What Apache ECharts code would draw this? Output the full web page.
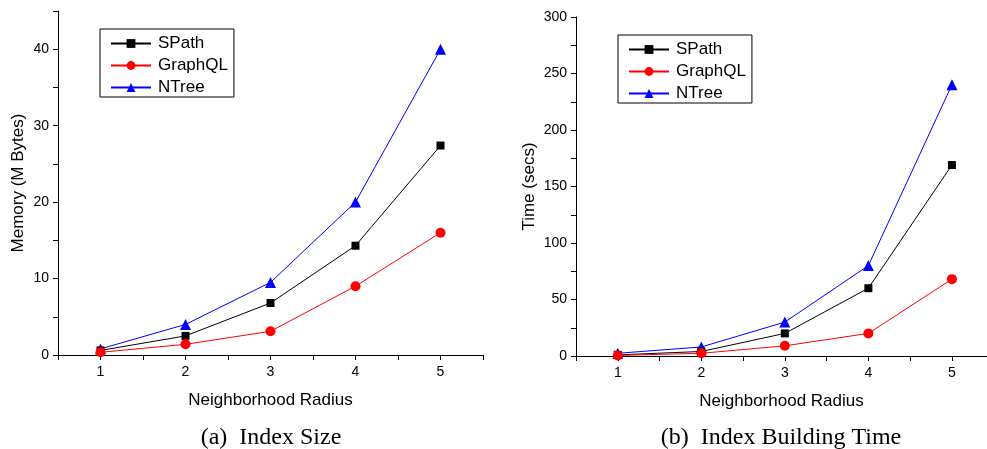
<!DOCTYPE html>
<html>
<head>
<meta charset="utf-8">
<script src="https://cdn.jsdelivr.net/npm/echarts@6/dist/echarts.min.js"></script>
<style>
  html, body { margin: 0; padding: 0; background: #fff; }
  #chart { width: 987px; height: 449px; }
</style>
</head>
<body>
<div id="chart"></div>
<script>
// Neighborhood radius values shared by both panels
const radius = [1, 2, 3, 4, 5];
const seriesNames = ['SPath', 'GraphQL', 'NTree'];
const xTickValues = [0.5, 1, 1.5, 2, 2.5, 3, 3.5, 4, 4.5, 5, 5.5];

// (a) Index size, in megabytes
const sizeSPath = [0.6, 2.5, 6.8, 14.3, 27.4];
const sizeGraphQL = [0.35, 1.4, 3.1, 9.0, 16.0];
const sizeNTree = [0.8, 4.0, 9.5, 20.0, 40.0];

// (b) Index building time, in seconds
const timeSPath = [1, 4, 20, 60, 169];
const timeGraphQL = [0.5, 2.4, 9, 20, 68];
const timeNTree = [2.4, 8, 30, 80, 240];

const captions = ['(a)  Index Size', '(b)  Index Building Time'];
const xAxisTitle = 'Neighborhood Radius';
const yAxisTitles = ['Memory (M Bytes)', 'Time (secs)'];

const sans = 'Liberation Sans, Arial, sans-serif';
const serif = 'Liberation Serif, Times New Roman, serif';

const styles = {
  SPath:   { color: '#000000', symbol: 'rect', symbolSize: 8 },
  GraphQL: { color: '#ff0000', symbol: 'circle', symbolSize: 10 },
  NTree:   { color: '#0000ff', symbol: 'triangle', symbolSize: 11 }
};

function pairs(values) {
  return radius.map((r, i) => [r, values[i]]);
}

function makeSeries(name, values, idx) {
  const s = styles[name];
  return {
    name: name,
    type: 'line',
    xAxisIndex: idx,
    yAxisIndex: idx,
    data: pairs(values),
    symbol: s.symbol,
    symbolSize: s.symbolSize,
    color: s.color,
    lineStyle: { color: s.color, width: 1 },
    itemStyle: { color: s.color },
    animation: false,
    z: name === 'NTree' ? 3 : (name === 'SPath' ? 4 : 5)
  };
}

const axisLine = { show: true, lineStyle: { color: '#000', width: 1 } };

function xAxis(gridIndex, max) {
  const ticks = xTickValues.filter(v => v <= max);
  return {
    type: 'value',
    gridIndex: gridIndex,
    min: 0.5,
    max: max,
    name: xAxisTitle,
    nameLocation: 'middle',
    nameGap: 37,
    nameTextStyle: { fontFamily: sans, fontSize: 17, color: '#000' },
    axisLine: axisLine,
    axisTick: { show: true, inside: false, length: 5, customValues: ticks,
                lineStyle: { color: '#000', width: 1 } },
    splitLine: { show: false },
    axisLabel: {
      fontFamily: sans, fontSize: 14, color: '#000', margin: 10,
      customValues: radius,
      formatter: v => String(Math.round(v))
    }
  };
}

function yAxis(gridIndex, max, interval, labelStep, title, gap) {
  return {
    type: 'value',
    gridIndex: gridIndex,
    min: 0,
    max: max,
    interval: interval,
    name: title,
    nameLocation: 'middle',
    nameGap: gap,
    nameRotate: 90,
    nameTextStyle: { fontFamily: sans, fontSize: 17, color: '#000' },
    axisLine: axisLine,
    axisTick: { show: true, inside: false, length: 5, lineStyle: { color: '#000', width: 1 } },
    splitLine: { show: false },
    axisLabel: {
      fontFamily: sans, fontSize: 14, color: '#000', margin: 9,
      formatter: v => (Math.round(v) % labelStep === 0 ? String(Math.round(v)) : '')
    }
  };
}

function legend(left, top) {
  return {
    show: true,
    orient: 'vertical',
    left: left,
    top: top,
    data: seriesNames,
    itemWidth: 40,
    itemHeight: 11,
    itemGap: 5,
    padding: [6, 6, 1, 10],
    borderColor: '#000',
    borderWidth: 1,
    textStyle: { fontFamily: sans, fontSize: 17, color: '#000', padding: [0, 0, 0, 2] },
    selectedMode: false
  };
}

const chart = echarts.init(document.getElementById('chart'), null, { renderer: 'canvas' });

chart.setOption({
  backgroundColor: '#ffffff',
  animation: false,
  title: [
    { text: captions[0], left: 271, top: 426, textAlign: 'center', padding: 0,
      textStyle: { fontFamily: serif, fontSize: 24, fontWeight: 'normal', color: '#000' } },
    { text: captions[1], left: 781, top: 426, textAlign: 'center', padding: 0,
      textStyle: { fontFamily: serif, fontSize: 24, fontWeight: 'normal', color: '#000' } }
  ],
  legend: [legend(100, 29), legend(618, 35)],
  grid: [
    { left: 58, top: 11, right: 504, bottom: 94, containLabel: false },
    { left: 576, top: 17, right: 0, bottom: 93, containLabel: false }
  ],
  // the right panel's x axis is cut at the page edge, just short of 5.5
  xAxis: [xAxis(0, 5.5), xAxis(1, 5.42)],
  yAxis: [
    yAxis(0, 45, 5, 10, yAxisTitles[0], 31),
    yAxis(1, 300, 25, 50, yAxisTitles[1], 38)
  ],
  series: [
    makeSeries('SPath', sizeSPath, 0),
    makeSeries('GraphQL', sizeGraphQL, 0),
    makeSeries('NTree', sizeNTree, 0),
    makeSeries('SPath', timeSPath, 1),
    makeSeries('GraphQL', timeGraphQL, 1),
    makeSeries('NTree', timeNTree, 1)
  ]
});
</script>
</body>
</html>
